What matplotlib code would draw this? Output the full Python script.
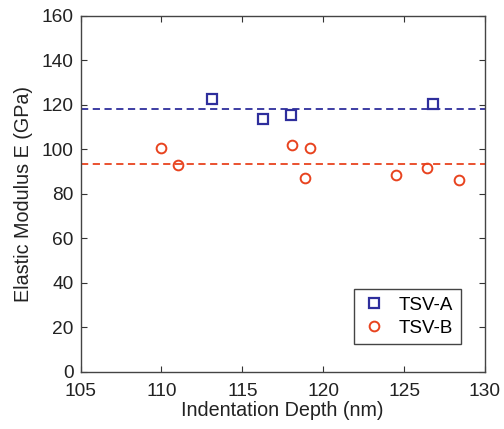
import matplotlib
matplotlib.use('Agg')
import matplotlib.pyplot as plt

# TSV-A (squares)
depth_a = [113.1, 116.3, 118.0, 126.8]
modulus_a = [122.6, 113.4, 115.4, 120.2]

# TSV-B (circles)
depth_b = [110.0, 111.0, 118.1, 119.2, 118.9, 124.5, 126.4, 128.4]
modulus_b = [100.5, 92.8, 101.9, 100.5, 87.2, 88.3, 91.4, 86.2]

mean_a = 118.0
mean_b = 93.5

blue = '#2e2e9c'
red = '#e8431f'

plt.rcParams['font.family'] = ['Liberation Sans', 'DejaVu Sans']

fig = plt.figure(figsize=(5.04, 4.29), dpi=100)
ax = fig.add_axes([0.160, 0.1336, 0.802, 0.830])

ax.plot(depth_a, modulus_a, 's', mfc='none', mec=blue, mew=1.6, ms=6.5, label='TSV-A')
ax.plot(depth_b, modulus_b, 'o', mfc='none', mec=red, mew=1.4, ms=7, label='TSV-B')
ax.axhline(mean_a, color=blue, ls='--', lw=1.3, dashes=(4, 2.5))
ax.axhline(mean_b, color=red, ls='--', lw=1.3, dashes=(4, 2.5))

ax.set_xlim(105, 130)
ax.set_ylim(0, 160)
ax.set_xticks([105, 110, 115, 120, 125, 130])
ax.set_yticks(range(0, 161, 20))
ax.tick_params(direction='in', top=True, right=True, labelsize=13.8, length=4,
               color='#333333', labelcolor='#222222')
ax.tick_params(axis='x', pad=8)
ax.tick_params(axis='y', pad=5)
for s in ax.spines.values():
    s.set_color('#444444')
    s.set_linewidth(1.0)

ax.set_xlabel('Indentation Depth (nm)', fontsize=14.2, color='#222222', labelpad=1)
ax.set_ylabel('Elastic Modulus E (GPa)', fontsize=14.2, color='#222222', labelpad=6)

leg = ax.legend(loc='lower right', bbox_to_anchor=(0.94, 0.077), fontsize=13.5,
                fancybox=False, edgecolor='#444444', framealpha=1,
                handletextpad=0.6, borderpad=0.4, labelspacing=0.3,
                handlelength=1.4, borderaxespad=0)
leg.get_frame().set_linewidth(1.0)

fig.savefig('out.png', dpi=100)
